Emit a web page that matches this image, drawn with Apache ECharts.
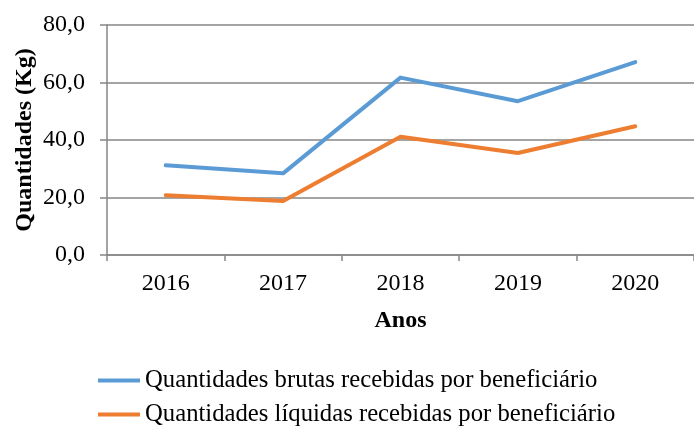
<!DOCTYPE html>
<html>
<head>
<meta charset="utf-8">
<script src="https://cdn.jsdelivr.net/npm/echarts@6/dist/echarts.min.js"></script>
<style>html,body{margin:0;padding:0;background:#fff}#c{width:694px;height:428px}</style>
</head>
<body>
<div id="c"></div>
<script>
var categories = ['2016', '2017', '2018', '2019', '2020'];
var brutas = [31.2, 28.4, 61.7, 53.5, 67.1];
var liquidas = [20.8, 18.8, 41.1, 35.5, 44.8];
var seriesNames = ['Quantidades brutas recebidas por beneficiário', 'Quantidades líquidas recebidas por beneficiário'];
var yAxisTitle = 'Quantidades (Kg)';
var xAxisTitle = 'Anos';

var font = '"Liberation Serif", "Times New Roman", serif';
var chart = echarts.init(document.getElementById('c'), null, {renderer: 'canvas'});
chart.setOption({
  animation: false,
  backgroundColor: '#fff',
  textStyle: {fontFamily: font, color: '#000'},
  grid: {left: 107, right: -7, top: 25, bottom: 173, containLabel: false},
  legend: {
    orient: 'vertical',
    left: 98,
    top: 368,
    padding: 0,
    itemWidth: 42,
    itemHeight: 4,
    itemGap: 9,
    icon: 'rect',
    textStyle: {fontFamily: font, fontSize: 24.7, color: '#000'},
    data: seriesNames
  },
  xAxis: {
    type: 'category',
    data: categories,
    boundaryGap: true,
    name: xAxisTitle,
    nameLocation: 'middle',
    nameGap: 54,
    nameMoveOverlap: false,
    nameTextStyle: {fontFamily: font, fontSize: 24, fontWeight: 'bold', color: '#000'},
    axisLine: {lineStyle: {color: '#868686', width: 1.5}},
    axisTick: {show: true, length: 6, alignWithLabel: false, lineStyle: {color: '#868686', width: 1.5}},
    axisLabel: {fontFamily: font, fontSize: 24, color: '#000', margin: 17}
  },
  yAxis: {
    type: 'value',
    min: 0,
    max: 80,
    interval: 20,
    name: yAxisTitle,
    nameLocation: 'middle',
    nameGap: 70,
    nameMoveOverlap: false,
    nameTextStyle: {fontFamily: font, fontSize: 24, fontWeight: 'bold', color: '#000'},
    axisLine: {show: true, lineStyle: {color: '#868686', width: 1.5}},
    axisTick: {show: true, length: 7, lineStyle: {color: '#868686', width: 1.5}},
    axisLabel: {fontFamily: font, fontSize: 24, color: '#000', margin: 22,
      formatter: function (v) { return v.toFixed(1).replace('.', ','); }},
    splitLine: {lineStyle: {color: '#868686', width: 1.5}}
  },
  series: [
    {name: seriesNames[0], type: 'line', data: brutas, symbol: 'none',
     lineStyle: {color: '#5B9BD5', width: 4, cap: 'round', join: 'round'}, itemStyle: {color: '#5B9BD5'}},
    {name: seriesNames[1], type: 'line', data: liquidas, symbol: 'none',
     lineStyle: {color: '#ED7D31', width: 4, cap: 'round', join: 'round'}, itemStyle: {color: '#ED7D31'}}
  ]
});
</script>
</body>
</html>
